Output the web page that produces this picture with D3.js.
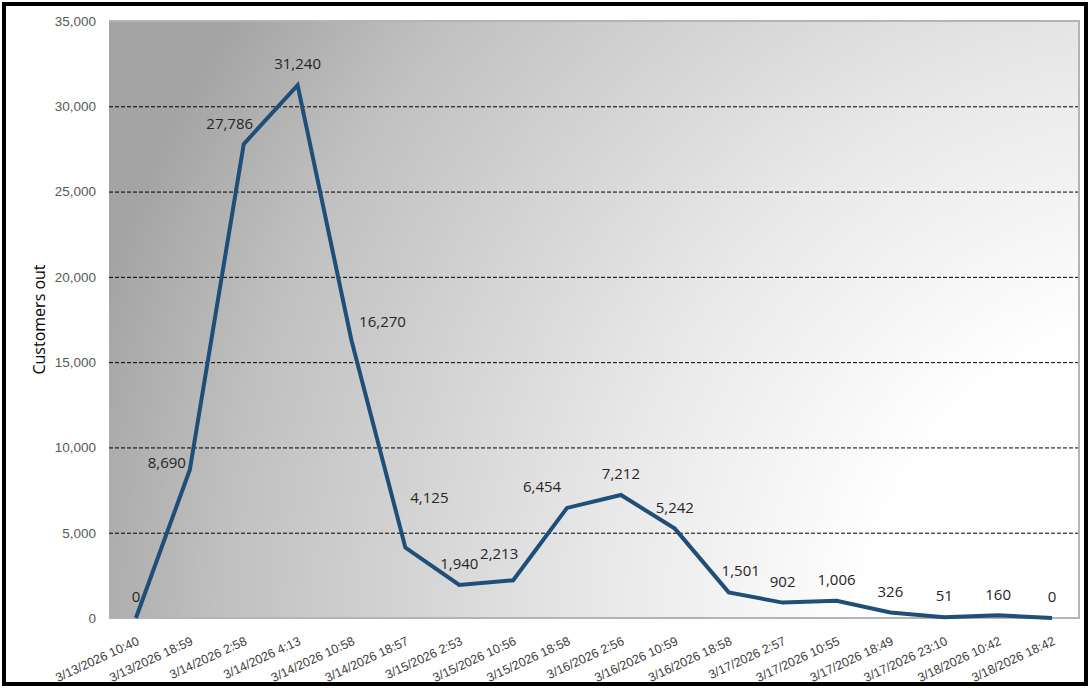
<!DOCTYPE html>
<html lang="en">
<head>
<meta charset="UTF-8">
<title>Customers out</title>
<script src="https://cdn.jsdelivr.net/npm/d3@7"></script>
<style>
    *{margin:0;padding:0}
    body{background:#fff;font-family:"Open Sans",sans-serif}
    .grid line{stroke:#000;stroke-dasharray:4,2;stroke-width:1}
    .yaxis text{fill:#595959;font-size:13.5px}
    .xaxis text{fill:#404040;font-size:12.5px}
    .labels text{fill:#262626;font-size:15px}
</style>
</head>
<body>
<div id="chart"></div>
<script>
    // time stamps on the x axis
    var categories = [
        "3/13/2026 10:40","3/13/2026 18:59","3/14/2026 2:58","3/14/2026 4:13",
        "3/14/2026 10:58","3/14/2026 18:57","3/15/2026 2:53","3/15/2026 10:56",
        "3/15/2026 18:58","3/16/2026 2:56","3/16/2026 10:59","3/16/2026 18:58",
        "3/17/2026 2:57","3/17/2026 10:55","3/17/2026 18:49","3/17/2026 23:10",
        "3/18/2026 10:42","3/18/2026 18:42"
    ];
    var customersOut = [0,8690,27786,31240,16270,4125,1940,2213,6454,7212,5242,1501,902,1006,326,51,160,0];
    var yTicks = [0,5000,10000,15000,20000,25000,30000,35000];
    // data label nudges (dx, dy) so labels sit like the original
    var labelShift = [
        [0,-21],[-23,-7],[-14,-20],[0,-21],[31,-19],[24,-50],[0,-21],[-14,-27],
        [-25,-21],[0,-21],[0,-21],[12,-22],[0,-21],[0,-21],[0,-21],[0,-21],[0,-21],[0,-21]
    ];

    var W = 1090, H = 688;
    var m = {left:109, right:11, top:21, bottom:70};
    var pw = W - m.left - m.right, ph = H - m.top - m.bottom;

    var svg = d3.select("#chart").append("svg").attr("width",W).attr("height",H);

    // outer frame
    svg.append("rect").attr("x",4).attr("y",4).attr("width",W-8).attr("height",H-8)
        .attr("fill","#fff").attr("stroke","#000").attr("stroke-width",4);

    var defs = svg.append("defs");
    var grad = defs.append("radialGradient").attr("id","bg")
        .attr("gradientUnits","userSpaceOnUse")
        .attr("cx",m.left+pw).attr("cy",m.top+ph).attr("r",Math.sqrt(pw*pw+ph*ph));
    [[0,"#ffffff"],[0.28,"#ffffff"],[0.52,"#e8e8e8"],[0.85,"#c0c0c0"],[1,"#a4a4a4"]].forEach(function(s){
        grad.append("stop").attr("offset",s[0]).attr("stop-color",s[1]);
    });

    var g = svg.append("g").attr("transform","translate("+m.left+","+m.top+")");

    var x = d3.scaleBand().domain(categories).range([0,pw]);
    var y = d3.scaleLinear().domain([0,35000]).range([ph,0]);

    g.append("rect").attr("width",pw).attr("height",ph).attr("fill","url(#bg)");

    g.append("g").attr("class","grid")
        .selectAll("line").data(yTicks.filter(function(d){return d>0&&d<35000;}))
        .enter().append("line")
        .attr("x1",0).attr("x2",pw)
        .attr("y1",function(d){return y(d)+0.5;}).attr("y2",function(d){return y(d)+0.5;});

    // plot border: top, right, bottom
    g.append("path").attr("fill","none").attr("stroke","#b4b4b4").attr("stroke-width",2)
        .attr("d","M0,0H"+pw+"V"+ph+"H0");

    var yAxis = g.append("g").attr("class","yaxis")
        .call(d3.axisLeft(y).tickValues(yTicks).tickSize(0).tickPadding(13).tickFormat(d3.format(",")));
    yAxis.select(".domain").remove();

    var xAxis = g.append("g").attr("class","xaxis").attr("transform","translate(0,"+ph+")")
        .call(d3.axisBottom(x).tickSize(0).tickPadding(0));
    xAxis.select(".domain").remove();
    xAxis.selectAll("text")
        .attr("text-anchor","end")
        .attr("x",0).attr("y",0).attr("dy",0)
        .attr("transform","translate(4,26) rotate(-25)");

    var line = d3.line()
        .x(function(d,i){return x(categories[i])+x.bandwidth()/2;})
        .y(function(d){return y(d);});

    g.append("path").datum(customersOut)
        .attr("fill","none").attr("stroke","#1f4e79").attr("stroke-width",4)
        .attr("stroke-linejoin","miter").attr("d",line);

    g.append("g").attr("class","labels").selectAll("text").data(customersOut)
        .enter().append("text")
        .attr("text-anchor","middle")
        .attr("x",function(d,i){return x(categories[i])+x.bandwidth()/2+labelShift[i][0];})
        .attr("y",function(d,i){return y(d)+labelShift[i][1];})
        .attr("dy","0.35em")
        .text(d3.format(","));

    svg.append("text")
        .attr("transform","translate(45,"+(m.top+ph/2)+") rotate(-90)")
        .attr("text-anchor","middle")
        .attr("font-size","16px").attr("fill","#000")
        .text("Customers out");
</script>
</body>
</html>
